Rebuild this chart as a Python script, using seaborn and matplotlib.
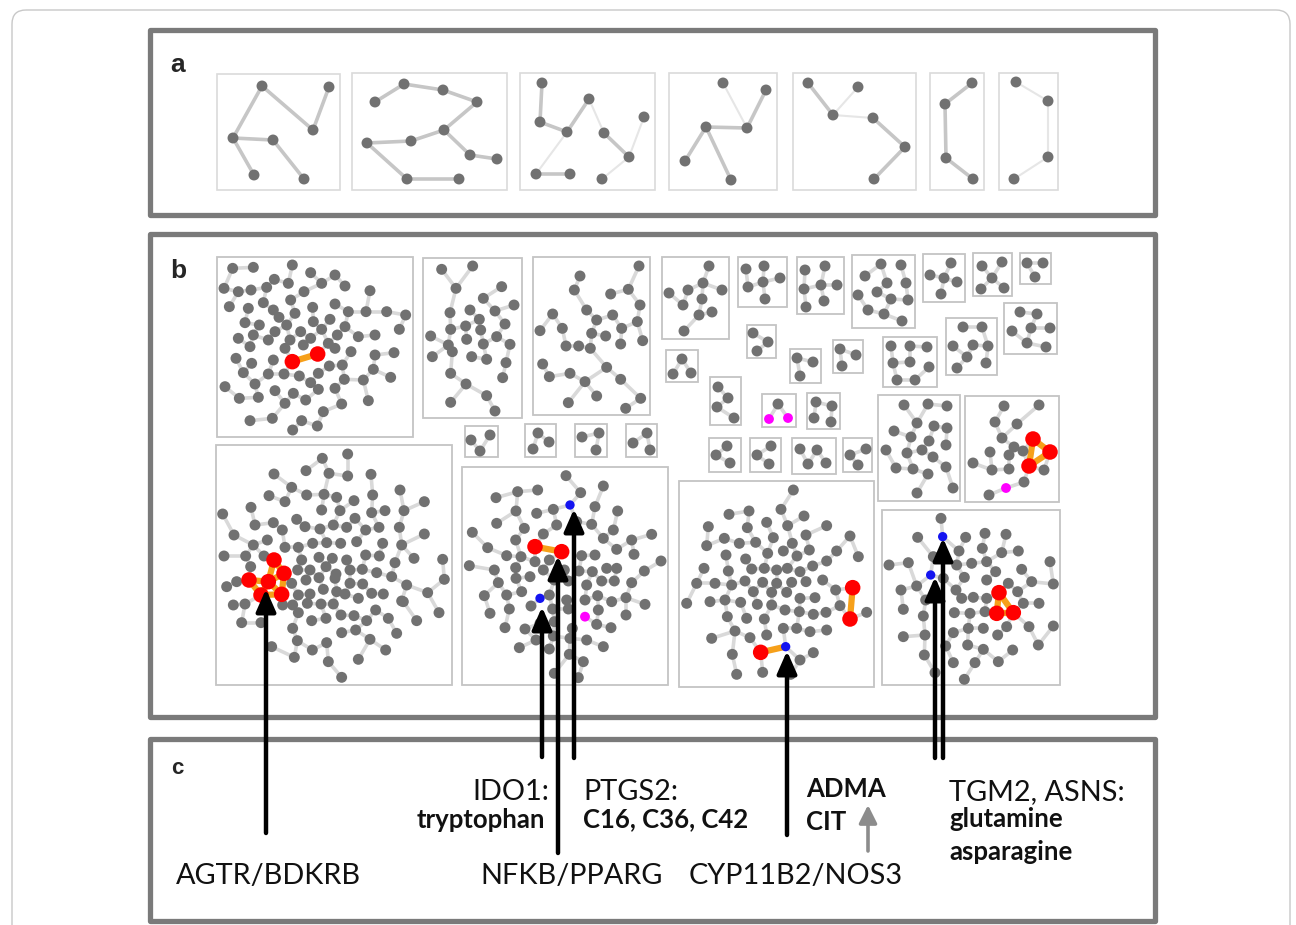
import numpy as np
import pandas as pd
import matplotlib
matplotlib.use("Agg")
import matplotlib.pyplot as plt
from matplotlib.patches import Rectangle, FancyBboxPatch
from matplotlib.collections import LineCollection
import seaborn as sns

W, H = 1296, 925

# ---------------------------------------------------------------
# panel a : small networks, nodes in pixel coords, typed edges
# (i, j, strong) ; strong=0 -> faint edge
# ---------------------------------------------------------------
a_boxes = [(217, 74, 340, 190), (352, 73, 507, 190), (520, 73, 655, 190),
           (669, 73, 777, 190), (793, 73, 916, 190), (930, 73, 984, 190),
           (999, 73, 1058, 190)]
a_nodes = [
    [(262, 86), (329, 87), (313, 130), (233, 138), (273, 140), (254, 175), (304, 179)],
    [(375, 102), (404, 84), (443, 90), (477, 102), (444, 130), (411, 141), (367, 143),
     (470, 155), (497, 159), (407, 179), (459, 179)],
    [(542, 83), (540, 122), (567, 132), (589, 99), (604, 133), (629, 157), (644, 117),
     (536, 174), (570, 174), (602, 179)],
    [(723, 83), (766, 90), (747, 128), (706, 127), (685, 161), (731, 180)],
    [(808, 83), (858, 87), (833, 115), (873, 118), (905, 147), (874, 179)],
    [(972, 83), (945, 104), (946, 158), (973, 179)],
    [(1016, 82), (1048, 101), (1048, 157), (1014, 179)],
]
a_edges = [
    [(0, 3, 1), (0, 2, 1), (1, 2, 1), (3, 4, 1), (3, 5, 1), (4, 6, 1)],
    [(0, 1, 1), (1, 2, 1), (2, 3, 1), (3, 4, 1), (4, 5, 1), (5, 6, 1), (6, 9, 1),
     (9, 10, 1), (4, 7, 1), (7, 8, 1)],
    [(0, 1, 1), (1, 2, 1), (2, 3, 1), (3, 4, 0), (4, 5, 1), (5, 6, 0), (5, 9, 0),
     (7, 8, 1), (2, 7, 0)],
    [(0, 2, 0), (1, 2, 1), (2, 3, 1), (3, 4, 1), (3, 5, 1)],
    [(0, 2, 1), (1, 2, 0), (2, 3, 0), (3, 4, 1), (4, 5, 1)],
    [(0, 1, 1), (1, 2, 1), (2, 3, 1)],
    [(0, 1, 0), (1, 2, 0), (2, 3, 0)],
]

# ---------------------------------------------------------------
# panel b : small boxes (pixel coords)
# ---------------------------------------------------------------
b_small_boxes = [
    (662, 257, 729, 339), (738, 257, 787, 307), (797, 257, 844, 314),
    (852, 255, 915, 328), (923, 254, 965, 302), (973, 253, 1012, 296),
    (1020, 253, 1051, 284), (747, 325, 776, 358), (666, 350, 698, 382),
    (790, 349, 821, 383), (833, 340, 863, 373), (946, 318, 997, 375),
    (1004, 303, 1057, 354), (883, 337, 937, 387), (710, 377, 741, 425),
    (762, 394, 796, 427), (807, 393, 840, 429),
    (465, 426, 498, 457), (525, 424, 556, 457), (575, 424, 607, 457),
    (626, 424, 657, 457), (709, 438, 741, 472), (750, 438, 781, 472),
    (792, 438, 836, 474), (843, 438, 872, 472),
    (878, 395, 960, 501), (965, 396, 1059, 502),
]
b_small_nodes = [
    [(709, 266), (703, 283), (688, 290), (669, 293), (722, 290), (683, 305), (702, 299),
     (699, 315), (712, 312), (684, 331)],
    [(746, 269), (764, 266), (780, 278), (763, 282), (748, 287), (765, 299)],
    [(805, 270), (825, 266), (837, 285), (821, 285), (804, 289), (824, 301), (806, 307)],
    [(881, 264), (901, 265), (865, 276), (887, 283), (906, 283), (877, 292), (891, 299),
     (908, 300), (868, 310), (884, 314), (902, 321), (858, 295)],
    [(951, 263), (930, 275), (944, 278), (957, 282), (941, 294)],
    [(982, 266), (1002, 262), (992, 278), (981, 289), (1004, 288)],
    [(1027, 263), (1043, 263), (1035, 277)],
    [(753, 333), (768, 342), (757, 351)],
    [(682, 359), (673, 374), (691, 373)],
    [(797, 358), (813, 362), (800, 376)],
    [(840, 349), (856, 355), (842, 366)],
    [(963, 327), (982, 327), (953, 346), (973, 345), (988, 346), (967, 357), (986, 363),
     (957, 368)],
    [(1020, 312), (1037, 314), (1012, 331), (1031, 328), (1050, 328), (1027, 343),
     (1046, 347)],
    [(891, 346), (910, 346), (927, 347), (893, 363), (910, 362), (929, 367), (897, 380),
     (915, 380)],
    [(718, 387), (728, 398), (717, 407), (734, 418)],
    [(778, 404)],
    [(816, 402), (832, 406), (814, 418), (831, 422)],
    [(471, 440), (490, 435), (480, 451)],
    [(538, 433), (549, 442), (533, 449)],
    [(582, 437), (599, 433), (596, 450)],
    [(647, 433), (633, 443), (650, 450)],
    [(727, 446), (716, 455), (730, 463)],
    [(771, 446), (757, 455), (769, 464)],
    [(800, 449), (817, 450), (826, 463), (808, 464)],
    [(866, 449), (850, 455), (858, 465)],
    [(904, 405), (928, 404), (947, 406), (917, 423), (934, 426), (947, 428), (894, 431),
     (911, 437), (929, 441), (946, 445), (886, 450), (907, 453), (922, 450), (933, 457),
     (896, 468), (913, 469), (928, 474), (946, 467), (917, 493), (953, 488)],
    [(1004, 406), (1039, 405), (995, 422), (1017, 424), (1002, 438), (1014, 447),
     (1023, 451), (990, 452), (1009, 455), (973, 463), (992, 470), (1009, 469),
     (1024, 482), (1044, 470), (989, 495)],
]
b_small_red = {26: [(1033, 439), (1050, 452), (1029, 466)]}
b_small_magenta = {15: [(769, 419), (788, 418)], 26: [(1006, 488)]}
b_small_orange = {26: [(0, 1), (1, 2), (2, 0)]}

# ---------------------------------------------------------------
# panel b : large networks, read at 3x from crops (origin, 3x coords)
# ---------------------------------------------------------------
big_boxes = [(217, 257, 413, 437), (423, 258, 522, 418), (533, 257, 650, 415),
             (216, 445, 452, 685), (462, 467, 668, 685), (679, 481, 874, 687),
             (882, 510, 1060, 685)]
big_origin = [(140, 230), (140, 230), (520, 240), (200, 430), (455, 455),
              (670, 475), (875, 500)]
big1_gray = [(278, 115), (340, 112), (457, 105), (512, 128), (585, 135), (403, 148),
             (445, 160), (545, 160), (615, 168), (252, 175), (295, 185), (333, 180),
             (380, 172), (492, 185), (690, 182), (268, 230), (325, 235), (370, 218),
             (400, 240), (452, 210), (518, 232), (585, 222), (625, 245), (678, 245),
             (740, 245), (797, 255), (417, 262), (465, 250), (520, 275), (570, 268),
             (315, 278), (358, 285), (440, 285), (615, 290), (295, 325), (340, 315),
             (405, 305), (482, 305), (545, 298), (592, 315), (655, 320), (705, 315),
             (778, 298), (330, 350), (385, 330), (450, 330), (512, 325), (565, 340),
             (633, 365), (585, 355), (288, 385), (335, 400), (400, 390), (435, 355),
             (490, 345), (705, 375), (762, 368), (310, 428), (385, 432), (432, 432),
             (478, 438), (535, 430), (568, 408), (607, 405), (700, 418), (255, 470),
             (345, 462), (405, 482), (460, 490), (512, 458), (585, 475), (613, 448),
             (670, 450), (752, 442), (298, 505), (355, 502), (435, 520), (497, 510),
             (535, 478), (605, 522), (685, 512), (550, 545), (330, 572), (397, 565),
             (485, 572), (532, 588), (458, 600)]
big1_red = [(457, 395), (533, 372)]
big2_gray = [(905, 118), (998, 108), (948, 175), (1030, 205), (1085, 170), (1122, 225),
             (930, 248), (990, 240), (1065, 243), (1018, 268), (1095, 282), (932, 298),
             (977, 288), (1022, 300), (872, 318), (980, 328), (1030, 342), (1070, 320),
             (1110, 343), (925, 345), (937, 365), (995, 380), (1040, 388), (1098, 398),
             (877, 380), (932, 430), (978, 462), (1088, 443), (1040, 497), (932, 517),
             (1065, 543)]
big3_gray = [(357, 78), (180, 108), (163, 150), (325, 148), (272, 162), (360, 195),
             (200, 210), (98, 222), (230, 240), (278, 225), (352, 245), (60, 272),
             (127, 265), (305, 265), (215, 280), (257, 288), (368, 302), (138, 318),
             (176, 318), (211, 325), (302, 312), (68, 372), (150, 400), (260, 382),
             (88, 410), (195, 425), (302, 418), (230, 468), (145, 488), (362, 475),
             (317, 505)]
big4_gray = [(367, 85), (443, 72), (318, 122), (387, 130), (443, 138), (513, 133),
             (222, 132), (275, 172), (207, 197), (255, 215), (320, 195), (372, 193),
             (410, 202), (462, 212), (518, 195), (600, 180), (673, 215), (153, 232),
             (68, 252), (290, 268), (220, 278), (165, 285), (247, 300), (365, 240),
             (420, 242), (465, 265), (515, 248), (555, 242), (612, 242), (315, 290),
             (360, 297), (400, 285), (440, 292), (497, 300), (537, 292), (598, 292),
             (673, 312), (102, 315), (160, 345), (202, 330), (255, 352), (295, 352),
             (338, 340), (380, 338), (422, 340), (470, 335), (548, 340), (605, 345),
             (72, 378), (137, 378), (192, 378), (305, 390), (357, 382), (397, 385),
             (440, 390), (497, 375), (538, 378), (585, 398), (642, 385), (728, 388),
             (152, 410), (293, 420), (330, 420), (378, 410), (408, 432), (450, 420),
             (487, 418), (530, 428), (575, 440), (620, 465), (733, 448), (80, 470),
             (110, 455), (275, 460), (318, 450), (357, 443), (405, 445), (450, 460),
             (488, 462), (550, 492), (605, 513), (683, 488), (100, 525), (135, 522),
             (248, 525), (295, 495), (330, 492), (370, 478), (410, 485), (435, 492),
             (475, 505), (515, 490), (610, 515), (717, 548), (125, 578), (183, 578),
             (278, 525), (322, 520), (363, 522), (400, 522), (295, 548), (335, 572),
             (378, 565), (423, 555), (462, 557), (500, 572), (527, 540), (565, 565),
             (650, 572), (278, 595), (425, 608), (467, 600), (510, 628), (590, 610),
             (215, 650), (292, 632), (337, 660), (380, 638), (557, 660), (283, 682),
             (385, 695), (475, 688), (425, 742)]
big4_red = [(222, 390), (252, 430), (147, 450), (205, 455), (183, 495), (245, 493)]
big5_gray = [(333, 62), (377, 113), (445, 93), (123, 128), (188, 110), (248, 105),
             (295, 163), (420, 155), (488, 168), (183, 168), (245, 175), (125, 205),
             (208, 220), (305, 210), (365, 200), (410, 208), (52, 232), (182, 255),
             (265, 237), (445, 250), (475, 225), (530, 255), (590, 238), (98, 278),
             (155, 302), (198, 305), (240, 320), (283, 315), (380, 302), (420, 300),
             (485, 283), (537, 298), (618, 318), (43, 332), (118, 345), (182, 338),
             (265, 345), (328, 345), (372, 348), (412, 350), (455, 340), (485, 340),
             (568, 348), (130, 383), (183, 370), (225, 365), (298, 375), (340, 378),
             (395, 390), (440, 378), (478, 378), (530, 383), (88, 422), (155, 420),
             (200, 410), (283, 420), (335, 435), (390, 435), (428, 422), (470, 440),
             (513, 428), (570, 448), (105, 475), (163, 462), (228, 453), (293, 462),
             (340, 462), (430, 465), (513, 480), (150, 518), (210, 522), (255, 505),
             (298, 500), (352, 520), (425, 508), (468, 518), (193, 578), (243, 555),
             (295, 543), (345, 550), (395, 555), (445, 575), (283, 582), (343, 598),
             (385, 620), (298, 655), (370, 668)]
big5_red = [(240, 275), (320, 290)]
big5_blue = [(345, 150), (255, 430)]
big5_magenta = [(390, 485)]
big6_gray = [(370, 45), (333, 103), (237, 108), (177, 118), (290, 142), (402, 123),
             (115, 155), (232, 158), (353, 152), (470, 152), (163, 190), (208, 205),
             (257, 202), (310, 188), (367, 205), (408, 180), (540, 183), (110, 212),
             (168, 240), (227, 252), (293, 235), (340, 228), (381, 243), (418, 225),
             (500, 228), (565, 245), (102, 280), (175, 288), (245, 282), (283, 280),
             (320, 285), (352, 280), (390, 290), (428, 273), (470, 258), (80, 325),
             (135, 325), (185, 330), (225, 318), (278, 322), (320, 325), (365, 322),
             (408, 320), (458, 315), (497, 345), (250, 350), (305, 352), (350, 352),
             (390, 370), (435, 368), (50, 385), (120, 380), (165, 375), (212, 382),
             (262, 388), (305, 390), (345, 405), (388, 410), (430, 418), (468, 412),
             (510, 392), (590, 412), (172, 425), (230, 430), (283, 432), (340, 460),
             (380, 460), (420, 470), (470, 465), (125, 490), (195, 468), (240, 488),
             (290, 480), (187, 538), (390, 555), (430, 533), (200, 598), (278, 592),
             (362, 598)]
big6_red = [(548, 338), (540, 432), (272, 532)]
big6_blue = [(347, 515)]
big7_gray = [(198, 55), (128, 112), (272, 112), (330, 100), (393, 103), (252, 153),
             (322, 145), (380, 158), (430, 153), (42, 195), (100, 188), (175, 170),
             (245, 195), (290, 190), (335, 185), (362, 215), (440, 208), (525, 185),
             (78, 270), (125, 258), (205, 235), (268, 232), (335, 240), (400, 250),
             (470, 245), (535, 252), (152, 300), (243, 270), (260, 295), (295, 292),
             (335, 295), (428, 275), (445, 310), (492, 310), (85, 328), (145, 348),
             (238, 338), (285, 340), (330, 335), (395, 380), (462, 380), (535, 378),
             (85, 410), (150, 405), (235, 398), (280, 385), (325, 385), (368, 405),
             (490, 435), (148, 465), (212, 438), (278, 435), (325, 448), (413, 450),
             (235, 488), (300, 488), (370, 485), (180, 518), (268, 538)]
big7_red = [(372, 278), (365, 340), (415, 338)]
big7_blue = [(203, 110), (167, 225)]

big_gray = [big1_gray, big2_gray, big3_gray, big4_gray, big5_gray, big6_gray, big7_gray]
big_red = [big1_red, [], [], big4_red, big5_red, big6_red, big7_red]
big_blue = [[], [], [], [], big5_blue, big6_blue, big7_blue]
big_magenta = [[], [], [], [], big5_magenta, [], []]
# orange links: pairs over the list red + blue of each cluster
big_orange = [[(0, 1)], [], [],
              [(0, 1), (1, 3), (2, 3), (3, 4), (3, 5), (1, 5), (0, 3), (2, 4), (4, 5)],
              [(0, 1)], [(0, 1), (2, 3)], [(0, 1), (1, 2), (0, 2)]]

# ---------------------------------------------------------------
# panel c : arrows and labels
# ---------------------------------------------------------------
arrow_x = [266, 542, 558, 574, 787, 935, 943]
arrow_base = [833, 757, 853, 758, 835, 758, 758]
arrow_tip = [589, 607, 556, 509, 651, 577, 538]


def crop(pts, org):
    return [(org[0] + x / 3.0, org[1] + y / 3.0) for x, y in pts]


def tree_edges(pts):
    # light grey links: shortest spanning tree over the node positions
    p = np.asarray(pts, float)
    n = len(p)
    if n < 2:
        return []
    d = np.hypot(p[:, None, 0] - p[None, :, 0], p[:, None, 1] - p[None, :, 1])
    used = np.zeros(n, bool)
    used[0] = True
    best = d[0].copy()
    parent = np.zeros(n, int)
    out = []
    for _ in range(n - 1):
        j = int(np.argmin(np.where(used, np.inf, best)))
        out.append((p[parent[j]], p[j]))
        used[j] = True
        upd = d[j] < best
        best = np.where(upd, d[j], best)
        parent = np.where(upd, j, parent)
    return out


rows = []
grey_segs, faint_segs, light_segs, orange_segs = [], [], [], []

for pts, edges in zip(a_nodes, a_edges):
    for x, y in pts:
        rows.append((x, y, "gray"))
    for i, j, s in edges:
        (grey_segs if s else faint_segs).append((pts[i], pts[j]))

for k, pts in enumerate(b_small_nodes):
    red = b_small_red.get(k, [])
    mag = b_small_magenta.get(k, [])
    for x, y in pts:
        rows.append((x, y, "gray"))
    for x, y in red:
        rows.append((x, y, "red"))
    for x, y in mag:
        rows.append((x, y, "magenta"))
    light_segs += tree_edges(pts + red + mag)
    for i, j in b_small_orange.get(k, []):
        orange_segs.append((red[i], red[j]))

for k in range(len(big_gray)):
    org = big_origin[k]
    g = crop(big_gray[k], org)
    r = crop(big_red[k], org)
    b = crop(big_blue[k], org)
    m = crop(big_magenta[k], org)
    for x, y in g:
        rows.append((x, y, "gray"))
    for x, y in r:
        rows.append((x, y, "red"))
    for x, y in b:
        rows.append((x, y, "blue"))
    for x, y in m:
        rows.append((x, y, "magenta"))
    light_segs += tree_edges(g + r + b + m)
    hl = r + b
    for i, j in big_orange[k]:
        orange_segs.append((hl[i], hl[j]))

nodes = pd.DataFrame(rows, columns=["x", "y", "kind"])
order = {"gray": 0, "magenta": 1, "blue": 2, "red": 3}
nodes["o"] = nodes["kind"].map(order)
nodes = nodes.sort_values("o", kind="stable")

sns.set_style("white")
fig = plt.figure(figsize=(12.96, 9.25), dpi=100)
ax = fig.add_axes([0, 0, 1, 1])

# outer frame of the figure page
ax.add_patch(FancyBboxPatch((12, 10), 1278, 940, boxstyle="round,pad=0,rounding_size=14",
                            fill=False, ec="#c8c8c8", lw=1.0))

# panel frames
for y0, y1 in [(30, 215), (234, 717), (739, 921)]:
    ax.add_patch(Rectangle((150, y0), 1005, y1 - y0, fill=False, ec="#7a7a7a", lw=3.8,
                           joinstyle="round", zorder=5))

for x0, y0, x1, y1 in a_boxes:
    ax.add_patch(Rectangle((x0, y0), x1 - x0, y1 - y0, fill=False, ec="#dadada", lw=1.2))
for x0, y0, x1, y1 in b_small_boxes + big_boxes:
    ax.add_patch(Rectangle((x0, y0), x1 - x0, y1 - y0, fill=False, ec="#c4c4c4", lw=1.3))

ax.add_collection(LineCollection(light_segs, colors="#d9d9d9", linewidths=2.6, zorder=1))
ax.add_collection(LineCollection(grey_segs, colors="#c6c6c6", linewidths=2.6, zorder=1))
ax.add_collection(LineCollection(faint_segs, colors="#e6e6e6", linewidths=1.5, zorder=1))
ax.add_collection(LineCollection(orange_segs, colors="#f6a01a", linewidths=4.5, zorder=2,
                                 capstyle="round"))

sns.scatterplot(data=nodes, x="x", y="y", hue="kind", size="kind",
                palette={"gray": "#717171", "red": "#ff0000", "blue": "#1414f0",
                         "magenta": "#ff00ff"},
                sizes={"gray": 62, "red": 125, "blue": 45, "magenta": 50},
                edgecolor="none", linewidth=0, legend=False, ax=ax, zorder=3)

for x, yb, yt in zip(arrow_x, arrow_base, arrow_tip):
    ax.annotate("", xy=(x, yt), xytext=(x, yb),
                arrowprops=dict(arrowstyle="-|>,head_length=0.75,head_width=0.33",
                                lw=3.2, color="black", shrinkA=0, shrinkB=0,
                                mutation_scale=18), zorder=6)
ax.annotate("", xy=(868, 805), xytext=(868, 851),
            arrowprops=dict(arrowstyle="-|>,head_length=0.6,head_width=0.3",
                            lw=2.6, color="#8c8c8c", shrinkA=0, shrinkB=0,
                            mutation_scale=18), zorder=6)

# panel letters
for lab, x, y, fs in [("a", 170, 72, 19), ("b", 170, 278, 19), ("c", 171, 774, 16)]:
    ax.text(x, y, lab, fontsize=fs, fontweight="bold", family="Liberation Sans",
            ha="left", va="baseline")

reg = dict(family="Lato", fontsize=20.8, va="baseline", color="#111111")
bold = dict(family="Lato", fontsize=18.5, fontweight="bold", va="baseline", color="#111111")
ax.text(176, 884, "AGTR/BDKRB", ha="left", **reg)
ax.text(480, 884, "NFKB/PPARG", ha="left", **reg)
ax.text(689, 884, "CYP11B2/NOS3", ha="left", **reg)
ax.text(549, 800, "IDO1:", ha="right", **reg)
ax.text(583, 800, "PTGS2:", ha="left", **reg)
ax.text(949, 800, "TGM2, ASNS:", ha="left", **reg)
ax.text(545, 828, "tryptophan", ha="right", **bold)
ax.text(583, 827, "C16, C36, C42", ha="left", **bold)
ax.text(806, 797, "ADMA", ha="left", **bold)
ax.text(806, 830, "CIT", ha="left", **bold)
ax.text(949, 827, "glutamine", ha="left", **bold)
ax.text(949, 860, "asparagine", ha="left", **bold)

ax.set_xlim(0, W)
ax.set_ylim(H, 0)
ax.axis("off")
fig.savefig("out.png", dpi=100)
